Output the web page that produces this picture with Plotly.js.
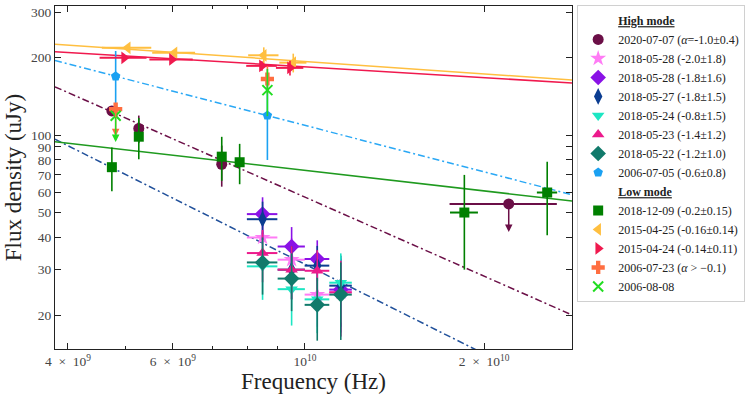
<!DOCTYPE html>
<html>
<head>
<meta charset="utf-8">
<script src="https://cdn.plot.ly/plotly-3.0.1.min.js"></script>
<style>
  html, body { margin: 0; padding: 0; background: #fff; }
  #sed-plot { width: 747px; height: 396px; }
</style>
</head>
<body>
<div id="sed-plot"></div>
<script>
// --- data (Hz, uJy) ---
const freqCluster = [8.49e9, 9.50e9, 1.049e10, 1.149e10];
const freqErrCluster = [0.5e9, 0.5e9, 0.5e9, 0.5e9];

const freq20200707 = [4.74e9, 5.26e9, 7.25e9, 2.2e10];
const flux20200707 = [124, 106, 77, 54];
const fluxErr20200707 = [5, 13, 14, 0];
const freqErr20200707 = [0, 0, 0, 0.45e10];
const limit20200707 = [null, null, null, 42];

const flux20180528a = [40, 32.8, 24, 24.5];
const flux20180528b = [49.3, 36.9, 33, 25.1];
const flux20180527 = [47.1, 30, 31.1, 26];
const flux20180524 = [30.9, 25.2, 23, 26.7];
const flux20180523 = [34.8, 30, 29.7, 24.5];
const flux20180522 = [32, 27.7, 21.9, 24];
const fluxErrCluster = [8, 7, 6, 8];

const freq20060705 = [4.81e9, 8.65e9];
const flux20060705 = [169, 119];
const fluxErr20060705 = [43, 39];

const freq20181209 = [4.74e9, 5.26e9, 7.25e9, 7.77e9, 1.853e10, 2.553e10];
const flux20181209 = [75, 98.5, 82.4, 78.4, 50, 59.8];
const fluxErr20181209 = [14.5, 18, 16, 14, 20, 19];
const freqErr20181209 = [0.08e9, 0.08e9, 0.08e9, 0.08e9, 0.1e10, 0.1e10];

const freq20150425 = [5.04e9, 6.04e9, 8.53e9, 9.56e9];
const flux20150425 = [218, 208.5, 204, 191];
const fluxErr20150425 = [4, 4, 15, 16];
const freqErr20150425 = [0.48e9, 0.5e9, 0.5e9, 0.5e9];

const freq20150424 = [4.97e9, 5.98e9, 8.47e9, 9.44e9];
const flux20150424 = [199.4, 196.6, 185.6, 182.3];
const fluxErr20150424 = [4, 4, 8, 12];
const freqErr20150424 = [0.45e9, 0.5e9, 0.5e9, 0.5e9];

const freq20060723 = [4.81e9, 8.65e9];
const flux20060723 = [126, 165];
const fluxErr20060723 = [0, 20];
const limit20060723 = [99, null];

const freq20060808 = [4.81e9, 8.65e9];
const flux20060808 = [118.8, 149.4];
const fluxErr20060808 = [0, 31];
const limit20060808 = [94, null];

// power-law fits S = A (nu / 1e10)^alpha
const fitAmp = [193, 184, 109, 57.4, 31.5, 72.9];
const fitIndex = [-0.16, -0.14, -0.6, -1.02, -1.156, -0.265];
const fitColor = ['#ffbf40', '#f0194e', '#2aa8f5', '#6b0f47', '#1f4f9a', '#1f9a1f'];
const fitDash = ['solid', 'solid', '7px,3px,2px,3px', '7px,3px,2px,3px', '7px,3px,2px,3px', 'solid'];

const xTickVals = [4e9, 6e9, 1e10, 2e10];
const xTickText = ['4\u2002×\u200210<sup>9</sup>', '6\u2002×\u200210<sup>9</sup>', '10<sup>10</sup>', '2\u2002×\u200210<sup>10</sup>'];
const xMinorVals = [5e9, 7e9, 8e9, 9e9];
const yTickVals = [20, 30, 40, 50, 60, 70, 80, 90, 100, 200, 300];

const xRange = [3.804e9, 2.81e10];
const FONT = '"Liberation Serif", "DejaVu Serif", serif';

function pointSeries(name, x, y, yerr, xerr, color, symbol, size, lim) {
  return {name, x, y, yerr, xerr, color, symbol, size, lim};
}

const series = [
  'High mode',
  pointSeries('2020-07-07 (<i>α</i>=-1.0±0.4)', freq20200707, flux20200707, fluxErr20200707, freqErr20200707, '#6b0f47', 'circle', 11, limit20200707),
  pointSeries('2018-05-28 (-2.0±1.8)', freqCluster, flux20180528a, fluxErrCluster, freqErrCluster, '#ff7bf5', 'star', 12),
  pointSeries('2018-05-28 (-1.8±1.6)', freqCluster, flux20180528b, fluxErrCluster, freqErrCluster, '#8a12e6', 'diamond', 12),
  pointSeries('2018-05-27 (-1.8±1.5)', freqCluster, flux20180527, fluxErrCluster, freqErrCluster, '#0b3d91', 'diamond-tall', 12),
  pointSeries('2018-05-24 (-0.8±1.5)', freqCluster, flux20180524, fluxErrCluster, freqErrCluster, '#1de6c3', 'triangle-down', 11),
  pointSeries('2018-05-23 (-1.4±1.2)', freqCluster, flux20180523, fluxErrCluster, freqErrCluster, '#ec1a8c', 'triangle-up', 11),
  pointSeries('2018-05-22 (-1.2±1.0)', freqCluster, flux20180522, fluxErrCluster, freqErrCluster, '#117a6b', 'diamond', 12),
  pointSeries('2006-07-05 (-0.6±0.8)', freq20060705, flux20060705, fluxErr20060705, null, '#1ba1f2', 'pentagon', 10),
  'Low mode',
  pointSeries('2018-12-09 (-0.2±0.15)', freq20181209, flux20181209, fluxErr20181209, freqErr20181209, '#008000', 'square', 10),
  pointSeries('2015-04-25 (-0.16±0.14)', freq20150425, flux20150425, fluxErr20150425, freqErr20150425, '#ffbf40', 'triangle-left', 11),
  pointSeries('2015-04-24 (-0.14±0.11)', freq20150424, flux20150424, fluxErr20150424, freqErr20150424, '#f0194e', 'triangle-right', 11),
  pointSeries('2006-07-23 (<i>α</i> &gt; −0.1)', freq20060723, flux20060723, fluxErr20060723, null, '#ff6e40', 'cross', 11, limit20060723),
  pointSeries('2006-08-08', freq20060808, flux20060808, fluxErr20060808, null, '#22dd22', 'x-thin', 10, limit20060808)
];

function buildTraces() {
  const traces = [];

  // fit lines first so points sit on top
  fitAmp.forEach((amp, i) => {
    traces.push({
      x: xRange,
      y: xRange.map(nu => amp * Math.pow(nu / 1e10, fitIndex[i])),
      mode: 'lines',
      line: {color: fitColor[i], width: 1.5, dash: fitDash[i]},
      showlegend: false,
      hoverinfo: 'skip'
    });
  });

  series.forEach(s => {
    if (typeof s === 'string') {
      // header row in the legend
      traces.push({
        x: [null], y: [null],
        mode: 'markers',
        marker: {color: 'rgba(0,0,0,0)', size: 1},
        name: '<b><u>' + s + '</u></b>'
      });
      return;
    }
    const isX = s.symbol === 'x-thin';
    const t = {
      x: s.x,
      y: s.y,
      mode: 'markers',
      name: s.name,
      marker: {
        color: s.color,
        symbol: s.symbol,
        size: s.size,
        line: isX ? {color: s.color, width: 2} : {width: 0}
      },
      error_y: {type: 'data', array: s.yerr, color: s.color, thickness: 1.6, width: 0}
    };
    if (s.xerr) {
      t.error_x = {type: 'data', array: s.xerr, color: s.color, thickness: 2, width: 0};
    }
    traces.push(t);
  });
  return traces;
}

function buildArrows() {
  const arrows = [];
  series.forEach(s => {
    if (typeof s === 'string' || !s.lim) return;
    s.lim.forEach((end, i) => {
      if (end == null) return;
      arrows.push({
        x: Math.log10(s.x[i]), y: Math.log10(end),
        ax: Math.log10(s.x[i]), ay: Math.log10(s.y[i]),
        axref: 'x', ayref: 'y', xref: 'x', yref: 'y',
        text: '', showarrow: true,
        arrowhead: 2, arrowsize: 1, arrowwidth: 1.5,
        arrowcolor: s.color, standoff: 0, startstandoff: 0
      });
    });
  });
  return arrows;
}

function plotSed() {
  const axisCommon = {
    type: 'log',
    showline: true,
    linecolor: '#222',
    linewidth: 1,
    mirror: 'allticks',
    ticks: 'inside',
    ticklen: 6,
    tickcolor: '#222',
    showgrid: false,
    zeroline: false,
    tickfont: {family: FONT, size: 13.5, color: '#444'}
  };

  const layout = {
    width: 747,
    height: 396,
    margin: {l: 55, r: 175, t: 6, b: 47, autoexpand: false},
    paper_bgcolor: '#fff',
    plot_bgcolor: '#fff',
    font: {family: FONT, color: '#222'},
    xaxis: Object.assign({}, axisCommon, {
      range: [Math.log10(xRange[0]), Math.log10(xRange[1])],
      tickmode: 'array',
      tickvals: xTickVals,
      ticktext: xTickText,
      minor: {tickmode: 'array', tickvals: xMinorVals, ticks: 'inside', ticklen: 3, tickcolor: '#222'},
      title: {text: 'Frequency (Hz)', font: {family: FONT, size: 23, color: '#222'}, standoff: 2}
    }),
    yaxis: Object.assign({}, axisCommon, {
      range: [1.169, 2.501],
      tickmode: 'array',
      tickvals: yTickVals,
      ticktext: yTickVals.map(String),
      title: {text: 'Flux density (uJy)', font: {family: FONT, size: 23, color: '#222'}, standoff: 2}
    }),
    legend: {
      x: 1.01, xanchor: 'left',
      y: 1.003, yanchor: 'top',
      maxheight: 390,
      bgcolor: '#fff',
      bordercolor: '#d0d0d0',
      borderwidth: 1,
      font: {family: FONT, size: 12, color: '#222'},
      traceorder: 'normal'
    },
    annotations: buildArrows(),
    showlegend: true
  };

  Plotly.newPlot('sed-plot', buildTraces(), layout, {staticPlot: true});
}

document.addEventListener('DOMContentLoaded', plotSed);
</script>
</body>
</html>
